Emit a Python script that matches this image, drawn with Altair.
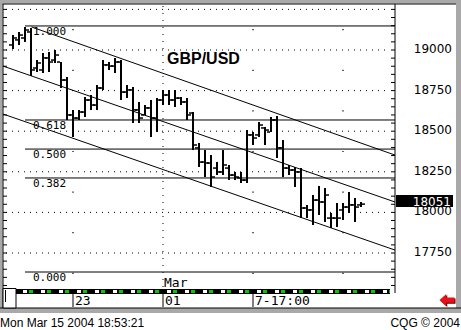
import altair as alt
import pandas as pd

# ---------------- data ----------------
bar_index = list(range(59))
opens = [19031, 19062, 19074, 19111, 18889, 18877, 18951, 18938, 18926, 18815,
         18600, 18581, 18618, 18692, 18661, 18766, 18908, 18901, 18926, 18741,
         18754, 18631, 18600, 18643, 18581, 18692, 18723, 18692, 18704, 18680,
         18612, 18397, 18310, 18304, 18273, 18249, 18273, 18230, 18212, 18199,
         18477, 18477, 18520, 18495, 18569, 18397, 18273, 18261, 18249, 18027,
         18015, 18076, 18064, 17965, 17965, 18015, 18033, 18046, 18046]
highs = [19092, 19111, 19142, 19135, 18938, 18982, 18988, 19000, 18926, 18834,
         18631, 18631, 18711, 18723, 18784, 18938, 18926, 18951, 18938, 18784,
         18772, 18680, 18661, 18692, 18704, 18754, 18754, 18754, 18711, 18704,
         18618, 18427, 18384, 18353, 18310, 18384, 18292, 18249, 18249, 18507,
         18495, 18557, 18526, 18587, 18594, 18446, 18292, 18280, 18273, 18046,
         18107, 18163, 18150, 17996, 18058, 18058, 18126, 18089, 18064]
lows = [19006, 19031, 19049, 18840, 18865, 18858, 18865, 18920, 18766, 18569,
        18464, 18569, 18587, 18631, 18631, 18754, 18877, 18858, 18692, 18704,
        18550, 18550, 18600, 18464, 18495, 18661, 18661, 18649, 18661, 18569,
        18384, 18280, 18218, 18156, 18230, 18230, 18199, 18199, 18181, 18181,
        18415, 18464, 18415, 18495, 18335, 18218, 18230, 18156, 17965, 17965,
        17922, 17984, 17941, 17904, 17910, 17953, 17996, 17941, 18033]
closes = [19074, 19092, 19123, 18877, 18920, 18951, 18926, 18969, 18815, 18600,
          18581, 18618, 18692, 18661, 18766, 18908, 18901, 18926, 18741, 18754,
          18631, 18581, 18643, 18581, 18692, 18723, 18692, 18704, 18680, 18600,
          18415, 18310, 18304, 18218, 18249, 18292, 18230, 18218, 18199, 18477,
          18458, 18538, 18507, 18569, 18397, 18273, 18261, 18249, 18027, 18015,
          18076, 18064, 18107, 17965, 17965, 18033, 18046, 18033, 18051]

fib_labels = ["1.000", "0.618", "0.500", "0.382", "0.000"]
fib_prices = [19148, 18569, 18390, 18212, 17633]
fib_i1 = [2.0, 2.0, 2.0, 2.0, 2.0]
fib_i2 = [63.667, 63.667, 63.667, 63.667, 63.667]

channel_names = ["upper", "middle", "lower"]
channel_i1 = [3.083, -1.667, -1.667]
channel_p1 = [19142, 18901, 18606]
channel_i2 = [63.667, 63.667, 63.667]
channel_p2 = [18353, 18064, 17768]

axis_prices = [17750, 18000, 18250, 18500, 18750, 19000]
axis_labels = ["17750", "18000", "18250", "18500", "18750", "19000"]
grid_prices = [17750, 18000, 18250, 18500, 18750, 19000, 19250]
minor_prices = list(range(17550, 19251, 50))
mid_prices = [19125, 18875, 18625, 18375, 18125, 17875, 17625]
week_idx = [10, 40, 55]
month_idx = [25]
month_labels = ["Mar"]
date_idx = [10, 25, 40]
date_labels = ["23", "01", "7-17:00"]
last_price = 18051
title_text = "GBP/USD"
status_left = "Mon Mar 15 2004 18:53:21"
status_right = "CQG \u00a9 2004"

# ---------------- scales ----------------
xs = alt.Scale(domain=[0, 58], range=[13, 361], zero=False, nice=False)
ys = alt.Scale(domain=[17750, 19000], range=[253, 50], zero=False, nice=False)


def X(f):
    return alt.X(f, type="quantitative", scale=xs, axis=None)


def Y(f):
    return alt.Y(f, type="quantitative", scale=ys, axis=None)


one = pd.DataFrame({"k": [0]})
bars = pd.DataFrame({"i": bar_index, "open": opens, "high": highs,
                     "low": lows, "close": closes})
fib = pd.DataFrame({"label": fib_labels, "p": fib_prices, "i1": fib_i1, "i2": fib_i2})
chan = pd.DataFrame({"name": channel_names, "i1": channel_i1, "p1": channel_p1,
                     "i2": channel_i2, "p2": channel_p2})
axis_df = pd.DataFrame({"p": axis_prices, "label": axis_labels})
grid_df = pd.DataFrame({"p": grid_prices})
minor_df = pd.DataFrame({"p": minor_prices})
dots_df = pd.DataFrame([{"i": w, "p": m} for w in week_idx for m in mid_prices])
month_df = pd.DataFrame({"i": month_idx, "label": month_labels})
date_df = pd.DataFrame({"i": date_idx, "label": date_labels})
last_df = pd.DataFrame({"p": [last_price], "label": [str(last_price)]})

GRAY = "#a9a9a9"
layers = []


def deco_rect(x, x2, y, y2, color, stroke=None):
    kw = dict(color=color)
    if stroke:
        kw = dict(fill=color, stroke=stroke, strokeWidth=1)
    return alt.Chart(one).mark_rect(**kw).encode(
        x=alt.value(x), x2=alt.value(x2), y=alt.value(y), y2=alt.value(y2))


def deco_rule(x, x2, y, y2, color="black", width=1, dash=None):
    kw = dict(color=color, strokeWidth=width)
    if dash:
        kw["strokeDash"] = dash
    return alt.Chart(one).mark_rule(**kw).encode(
        x=alt.value(x), x2=alt.value(x2), y=alt.value(y), y2=alt.value(y2))


# frame
layers += [
    deco_rect(0, 461, 0, 3.5, GRAY),
    deco_rect(0, 2.5, 0, 313, GRAY),
    deco_rect(456, 461, 0, 313, GRAY),
    deco_rect(0, 461, 308, 313, GRAY),
    deco_rule(2.5, 456, 4, 4),
    deco_rule(3, 3, 4, 308),
    deco_rule(395, 395, 4, 293),
    deco_rule(0, 461, 308, 308),
]

# grid
layers.append(alt.Chart(grid_df).mark_rule(color="black", strokeWidth=1, strokeDash=[1, 5]).encode(
    x=alt.value(6), x2=alt.value(390), y=Y("p")))
layers.append(alt.Chart(pd.DataFrame({"i": month_idx})).mark_rule(
    color="black", strokeWidth=1, strokeDash=[1, 6]).encode(
    x=X("i"), y=alt.value(6), y2=alt.value(288)))
layers.append(alt.Chart(dots_df).mark_point(shape="square", size=1.5, filled=True,
                                             color="black", opacity=1).encode(x=X("i"), y=Y("p")))
# minor ticks
layers.append(alt.Chart(minor_df).mark_rule(color="black").encode(
    x=alt.value(3), x2=alt.value(7), y=Y("p")))
layers.append(alt.Chart(minor_df).mark_rule(color="black").encode(
    x=alt.value(391), x2=alt.value(395), y=Y("p")))

# fibonacci levels
layers.append(alt.Chart(fib).mark_rule(color="black", strokeWidth=1).encode(
    x=X("i1"), x2="i2:Q", y=Y("p")))
layers.append(alt.Chart(fib).mark_text(align="left", baseline="alphabetic", dx=8, dy=9,
                                        font="DejaVu Sans Mono", fontSize=11, color="black").encode(
    x=X("i1"), y=Y("p"), text="label:N"))

# channel lines
layers.append(alt.Chart(chan).mark_rule(color="black", strokeWidth=1).encode(
    x=X("i1"), x2="i2:Q", y=Y("p1"), y2="p2:Q"))

# OHLC bars
layers.append(alt.Chart(bars).mark_rule(color="black", strokeWidth=2).encode(
    x=X("i"), y=Y("low"), y2="high:Q"))
layers.append(alt.Chart(bars).mark_rule(color="black", strokeWidth=1.5, xOffset=-4, x2Offset=-1).encode(
    x=X("i"), x2="i:Q", y=Y("open")))
layers.append(alt.Chart(bars).mark_rule(color="black", strokeWidth=1.5, xOffset=1, x2Offset=4).encode(
    x=X("i"), x2="i:Q", y=Y("close")))

# title
layers.append(alt.Chart(pd.DataFrame({"t": [title_text]})).mark_text(
    align="left", baseline="alphabetic", font="Liberation Sans", fontWeight="bold",
    fontSize=16, color="black").encode(x=alt.value(167), y=alt.value(63.5), text="t:N"))

# month label
layers.append(alt.Chart(month_df).mark_text(align="left", baseline="alphabetic", dx=1,
                                             font="DejaVu Sans Mono", fontSize=13, color="black").encode(
    x=X("i"), y=alt.value(287), text="label:N"))

# price axis labels
layers.append(alt.Chart(axis_df).mark_text(align="right", baseline="middle", dy=-1,
                                            font="DejaVu Sans", fontSize=12, color="black").encode(
    x=alt.value(452), y=Y("p"), text="label:N"))

# bottom strip
layers.append(deco_rect(16, 390, 289, 294, "black"))
layers.append(deco_rule(23, 390, 291.5, 291.5, "white", 3, [4, 14]))
layers.append(deco_rule(29, 390, 291.5, 291.5, "#00cc00", 3, [4, 14]))
layers.append(deco_rect(3, 16, 288.5, 308, "white", stroke="black"))
layers.append(deco_rule(5.5, 5.5, 290, 302))

# date labels
layers.append(alt.Chart(date_df).mark_rule(color="black", strokeWidth=1).encode(
    x=X("i"), y=alt.value(294), y2=alt.value(307)))
layers.append(alt.Chart(date_df).mark_text(align="left", baseline="alphabetic", dx=2,
                                            font="DejaVu Sans Mono", fontSize=13, color="black").encode(
    x=X("i"), y=alt.value(305), text="label:N"))

# last price box
layers.append(alt.Chart(last_df).transform_calculate(top="datum.p + 56", bot="datum.p - 18").mark_rect(
    color="black").encode(x=alt.value(396), x2=alt.value(453), y=Y("top"), y2="bot:Q"))
layers.append(alt.Chart(last_df).mark_text(align="right", baseline="middle", dy=-2.5,
                                            font="DejaVu Sans", fontSize=12, color="white").encode(
    x=alt.value(451), y=Y("p"), text="label:N"))

# red arrow
arrow = "M-1,0L-0.1,-0.8L-0.1,-0.35L1,-0.35L1,0.35L-0.1,0.35L-0.1,0.8Z"
layers.append(alt.Chart(one).mark_point(shape=arrow, size=225, filled=True, color="#600000",
                                        opacity=1).encode(x=alt.value(448), y=alt.value(301)))
layers.append(alt.Chart(one).mark_point(shape=arrow, size=225, filled=True, color="#e8101a",
                                        opacity=1).encode(x=alt.value(447), y=alt.value(300)))

# status line
layers.append(alt.Chart(pd.DataFrame({"t": [status_left]})).mark_text(
    align="left", baseline="alphabetic", font="Liberation Sans", fontSize=12, color="black").encode(
    x=alt.value(0), y=alt.value(327), text="t:N"))
layers.append(alt.Chart(pd.DataFrame({"t": [status_right]})).mark_text(
    align="right", baseline="alphabetic", font="Liberation Sans", fontSize=12, color="black").encode(
    x=alt.value(460), y=alt.value(327), text="t:N"))

chart = alt.layer(*layers).properties(
    width=461, height=330, padding=0,
    autosize=alt.AutoSizeParams(type="none"), background="white",
).configure_view(stroke=None)

chart.save("out.html", embed_options={"renderer": "svg", "actions": False})
